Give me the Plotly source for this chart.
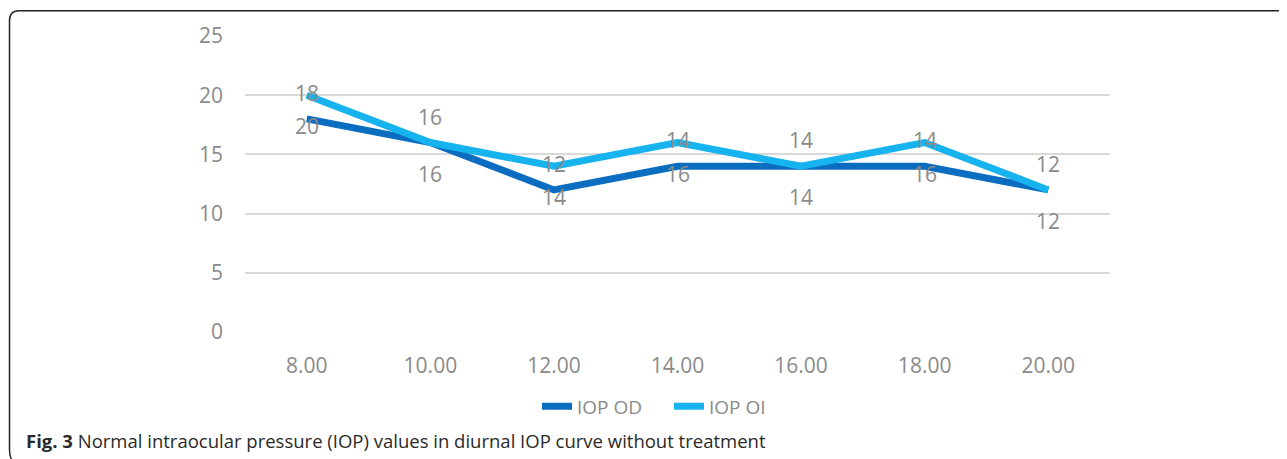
import plotly.graph_objects as go

hours = ["8.00", "10.00", "12.00", "14.00", "16.00", "18.00", "20.00"]
iop_od = [18, 16, 12, 14, 14, 14, 12]
iop_oi = [20, 16, 14, 16, 14, 16, 12]
# data-label texts as printed in the source figure
od_label_text = [18, 16, 12, 14, 14, 14, 12]
oi_label_text = [20, 16, 14, 16, 14, 16, 12]

OFF = 8  # page body margin
W, H = 1287 - OFF, 459 - OFF
PL, PR, PT, PB = 245, 1110, 35.7, 332.5  # plot area in page pixels


def px(x):
    return (x - PL) / (PR - PL)


def py(y):
    return (PB - y) / (PB - PT)


GRAY = "#8a8a8a"
FONT = "Open Sans"

fig = go.Figure()
fig.add_trace(go.Scatter(x=hours, y=iop_od, mode="lines", name="IOP OD",
                         line=dict(color="#0B6DBF", width=7)))
fig.add_trace(go.Scatter(x=hours, y=iop_oi, mode="lines", name="IOP OI",
                         line=dict(color="#17B3EE", width=7)))

annotations = []
for i, (v, t) in enumerate(zip(iop_od, od_label_text)):
    annotations.append(dict(x=i, y=v, xref="x", yref="y", text=str(t), showarrow=False,
                            yshift=26, xanchor="center", yanchor="middle",
                            font=dict(family=FONT, size=21, color=GRAY)))
for i, (v, t) in enumerate(zip(iop_oi, oi_label_text)):
    annotations.append(dict(x=i, y=v, xref="x", yref="y", text=str(t), showarrow=False,
                            yshift=-31, xanchor="center", yanchor="middle",
                            font=dict(family=FONT, size=21, color=GRAY)))

annotations.append(dict(
    xref="paper", yref="paper", x=px(24), y=py(441), xanchor="left", yanchor="middle",
    showarrow=False,
    text="<b>Fig. 3</b> Normal intraocular pressure (IOP) values in diurnal IOP curve without treatment",
    font=dict(family=FONT, size=18.5, color="#2a2a2a")))

border = (f"M {px(13)},{py(462)} Q {px(9.5)},{py(459)} {px(9.5)},{py(450)} "
          f"L {px(9.5)},{py(20)} Q {px(9.5)},{py(10.5)} {px(19)},{py(10.5)} "
          f"L {px(1295)},{py(10.5)}")

fig.update_layout(
    width=W, height=H,
    margin=dict(l=PL - OFF, r=W - (PR - OFF), t=PT - OFF, b=H - (PB - OFF), autoexpand=False),
    paper_bgcolor="white", plot_bgcolor="white",
    showlegend=True,
    legend=dict(orientation="h", x=px(537), y=py(407), xanchor="left", yanchor="middle",
                font=dict(family=FONT, size=19, color=GRAY),
                entrywidth=87, entrywidthmode="pixels", tracegroupgap=0),
    xaxis=dict(type="category", showgrid=False, showline=False, zeroline=False,
               tickfont=dict(family=FONT, size=21, color=GRAY), ticks="",
               ticklabelstandoff=19, range=[-0.5, 6.5]),
    yaxis=dict(range=[0, 25], dtick=5, showgrid=True, gridcolor="#d9d9d9", gridwidth=1.5,
               zeroline=False, showline=False, ticks="",
               tickfont=dict(family=FONT, size=21, color=GRAY), ticklabelstandoff=21),
    annotations=annotations,
    shapes=[dict(type="path", xref="paper", yref="paper", path=border,
                 line=dict(color="#222222", width=1.5))],
)

fig.write_html("out.html")
